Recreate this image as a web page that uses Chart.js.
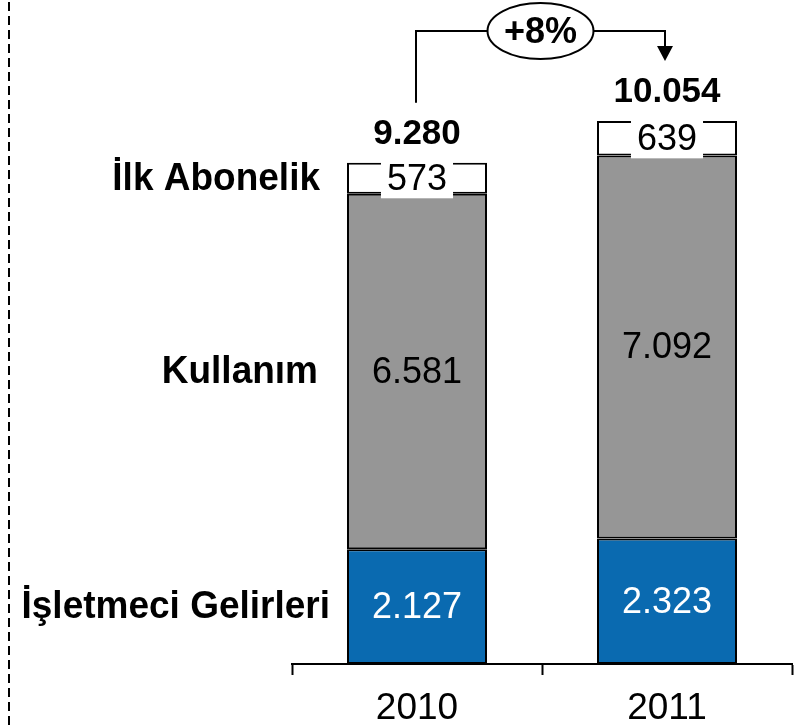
<!DOCTYPE html>
<html><head><meta charset="utf-8">
<script src="https://cdn.jsdelivr.net/npm/chart.js@4.4.0/dist/chart.umd.min.js"></script>
<style>html,body{margin:0;padding:0;background:#fff;}#wrap{width:798px;height:728px;position:relative;}</style>
</head><body><div id="wrap"><canvas id="c" width="798" height="728"></canvas></div>
<script>
const years = ['2010', '2011'];
const seriesNames = ['İşletmeci Gelirleri', 'Kullanım', 'İlk Abonelik'];
const operatorRevenue = [2127, 2323];
const usage = [6581, 7092];
const firstSubscription = [573, 639];
const totals = [9280, 10054];
const growthLabel = '+8%';
const yMax = 12000;

const FONT = '"Liberation Sans", Arial, sans-serif';
const fmt = v => String(v).replace(/\B(?=(\d{3})+(?!\d))/g, '.');

function drawText(ctx, txt, x, y, sy) {
  ctx.save();
  ctx.translate(x, y);
  ctx.scale(1, sy);
  ctx.fillText(txt, 0, 0);
  ctx.restore();
}

const overlay = {
  id: 'overlay',
  afterDraw(chart) {
    const ctx = chart.ctx;
    ctx.save();
    // dashed separator at left
    ctx.strokeStyle = '#000';
    ctx.lineWidth = 2;
    ctx.setLineDash([9, 5]);
    ctx.beginPath(); ctx.moveTo(9, 2); ctx.lineTo(9, 728); ctx.stroke();
    ctx.setLineDash([]);

    const textColors = ['#fff', '#000', '#000'];
    const labelRight = [330, 318, 320];
    chart.data.datasets.forEach((ds, di) => {
      const meta = chart.getDatasetMeta(di);
      meta.data.forEach((el, i) => {
        const cy = (el.y + el.base) / 2;
        ctx.font = '36px ' + FONT;
        const txt = fmt(ds.data[i]);
        if (di === 2) {
          const w = ctx.measureText(txt).width + 12;
          ctx.fillStyle = '#fff';
          ctx.fillRect(el.x - w / 2, cy - 18, w, 38);
        }
        ctx.fillStyle = textColors[di];
        ctx.textAlign = 'center';
        ctx.textBaseline = 'middle';
        drawText(ctx, txt, el.x, cy + 1, 1.05);
        if (i === 0) {
          ctx.font = 'bold 37px ' + FONT;
          ctx.fillStyle = '#000';
          ctx.textAlign = 'right';
          drawText(ctx, ds.label, labelRight[di], cy + 1, 1.05);
        }
      });
    });
    // totals
    const top = chart.getDatasetMeta(2).data;
    const tops = [];
    top.forEach((el, i) => {
      ctx.font = 'bold 35px ' + FONT;
      ctx.fillStyle = '#000';
      ctx.textAlign = 'center';
      ctx.textBaseline = 'middle';
      const ty = el.y - 29;
      drawText(ctx, fmt(totals[i]), el.x, ty, 1.02);
      tops.push({x: el.x, y: ty - 12});
    });
    // growth bracket
    const x1 = tops[0].x - 1, x2 = tops[1].x - 2;
    const hy = 31;
    const cx = (x1 + x2) / 2, rx = 53, ry = 28;
    ctx.strokeStyle = '#000';
    ctx.lineWidth = 2;
    ctx.beginPath();
    ctx.moveTo(x1, tops[0].y - 19); ctx.lineTo(x1, hy); ctx.lineTo(cx - rx, hy);
    ctx.moveTo(cx + rx, hy); ctx.lineTo(x2, hy); ctx.lineTo(x2, tops[1].y - 30);
    ctx.stroke();
    ctx.fillStyle = '#000';
    ctx.beginPath();
    const tipY = tops[1].y - 19;
    ctx.moveTo(x2 - 8, tipY - 15); ctx.lineTo(x2 + 8, tipY - 15); ctx.lineTo(x2, tipY); ctx.closePath();
    ctx.fill();
    ctx.beginPath();
    ctx.ellipse(cx, hy, rx, ry, 0, 0, Math.PI * 2);
    ctx.fillStyle = '#fff'; ctx.fill();
    ctx.stroke();
    ctx.fillStyle = '#000';
    ctx.font = 'bold 36px ' + FONT;
    ctx.textAlign = 'center';
    ctx.textBaseline = 'middle';
    drawText(ctx, growthLabel, cx, hy + 2, 1.03);
    ctx.restore();
  }
};

new Chart(document.getElementById('c'), {
  type: 'bar',
  data: {
    labels: years,
    datasets: [
      {label: seriesNames[0], data: operatorRevenue, backgroundColor: '#0A6AB0'},
      {label: seriesNames[1], data: usage, backgroundColor: '#969696'},
      {label: seriesNames[2], data: firstSubscription, backgroundColor: '#ffffff'}
    ].map(d => Object.assign(d, {borderColor: '#000', borderWidth: 2, borderSkipped: false, categoryPercentage: 1, barPercentage: 0.56}))
  },
  options: {
    responsive: false,
    devicePixelRatio: 1,
    animation: false,
    layout: {padding: {left: 292, right: 6, top: 16, bottom: 0}},
    plugins: {legend: {display: false}, tooltip: {enabled: false}},
    scales: {
      x: {
        stacked: true,
        grid: {display: true, drawOnChartArea: false, drawTicks: true, tickLength: 11, tickWidth: 2, tickColor: '#000', offset: true},
        border: {display: true, color: '#000', width: 2},
        ticks: {color: '#000', font: {family: FONT, size: 37}, padding: 12},
        afterFit: s => { s.height = 64; }
      },
      y: {stacked: true, display: false, min: 0, max: yMax}
    }
  },
  plugins: [overlay]
});
</script></body></html>
